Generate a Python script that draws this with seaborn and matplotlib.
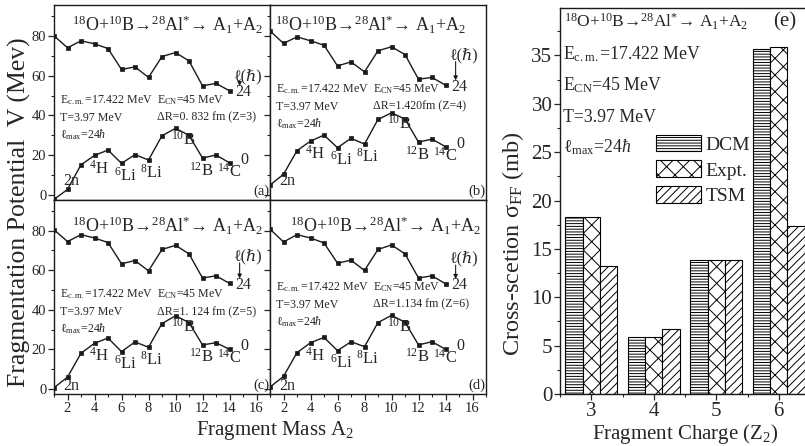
import numpy as np
import pandas as pd
import matplotlib
matplotlib.use("Agg")
import matplotlib.pyplot as plt
import seaborn as sns
from matplotlib.ticker import MultipleLocator
from matplotlib.patches import Patch

sns.set_theme(style="ticks")
plt.rcParams['font.family'] = ['Liberation Serif', 'DejaVu Serif']
plt.rcParams['mathtext.fontset'] = 'custom'
plt.rcParams['mathtext.rm'] = 'Liberation Serif'
plt.rcParams['mathtext.it'] = 'Liberation Serif:italic'
plt.rcParams['mathtext.bf'] = 'Liberation Serif:bold'
plt.rcParams['mathtext.fallback'] = 'stix'
plt.rcParams['hatch.linewidth'] = 0.7
plt.rcParams['axes.linewidth'] = 1.0

# ---------------- data ----------------
mass = [1, 2, 3, 4, 5, 6, 7, 8, 9, 10, 11, 12, 13, 14]

v24_a = [80.0, 74.0, 77.5, 76.0, 73.6, 63.1, 64.4, 59.1, 69.6, 71.6, 67.4, 54.9, 56.1, 52.4]
v0_a = [-2.2, 2.8, 15.2, 19.9, 22.6, 15.9, 20.3, 17.6, 29.8, 33.5, 30.0, 18.6, 20.1, 16.2]
v24_b = [82.5, 76.2, 79.5, 77.5, 75.3, 64.9, 66.9, 61.9, 72.5, 74.5, 70.6, 58.2, 59.1, 55.2]
v0_b = [5.0, 10.4, 22.3, 27.1, 30.1, 23.8, 28.5, 25.6, 38.0, 41.3, 38.2, 26.6, 28.1, 24.3]
v24_c = [80.5, 74.5, 78.0, 76.3, 74.0, 63.3, 64.9, 59.7, 70.5, 72.6, 68.3, 56.1, 57.2, 53.4]
v0_c = [0.7, 6.0, 18.1, 23.1, 25.8, 18.9, 23.8, 21.1, 33.1, 37.0, 33.6, 22.3, 23.4, 20.1]
v24_d = [80.8, 74.3, 78.0, 76.3, 73.8, 63.6, 65.1, 59.9, 70.5, 72.8, 68.3, 56.1, 57.2, 53.2]
v0_d = [1.0, 6.4, 18.4, 23.4, 26.1, 19.4, 23.9, 21.4, 33.6, 37.2, 33.8, 22.3, 23.9, 20.1]

delta_r = ["ΔR=0. 832 fm (Z=3)", "ΔR=1.420fm (Z=4)", "ΔR=1. 124 fm (Z=5)", "ΔR=1.134 fm (Z=6)"]
panel_tags = ["(a)", "(b)", "(c)", "(d)"]

frag_mass = [4, 6, 8, 10, 12, 14]
frag_names = [r"$^{4}$H", r"$^{6}$Li", r"$^{8}$Li", r"$^{10}$B", r"$^{12}$B", r"$^{14}$C"]

charges = ["3", "4", "5", "6"]
sigma_dcm = [18.3, 5.9, 13.8, 35.7]
sigma_expt = [18.3, 5.9, 13.8, 35.9]
sigma_tsm = [13.2, 6.7, 13.9, 17.4]
models = ["DCM", "Expt.", "TSM"]

# ---------------- figure ----------------
W, H = 805, 446
fig = plt.figure(figsize=(W / 100, H / 100), dpi=100)


def box(l, t, r, b):
    return [l / W, (H - b) / H, (r - l) / W, (b - t) / H]


title_txt = r"$^{18}$O+$^{10}$B→$^{28}$Al$^{*}$→ A$_1$+A$_2$"
lmax_txt = r"ℓ$_{\rm max}$=24$\hbar$"

panels = [
    (box(54, 5, 270, 200), v24_a, v0_a),
    (box(270, 5, 486, 200), v24_b, v0_b),
    (box(54, 200, 270, 394), v24_c, v0_c),
    (box(270, 200, 486, 394), v24_d, v0_d),
]
title_x = [2.3, 1.4, 2.3, 2.5]
title_y = [85.5, 85.5, 82.5, 82.5]
info_y = [47.7, 53.2, 47.8, 51.5]
twon_y = [7.2, 6.8, 1.3, 1.3]
ell_dy = [7.0, 15.0, 13.5, 12.6]
lab_off = {4: (0.35, -6.5), 6: (0.3, -6.0), 8: (0.25, -6.3), 10: (0.6, -5.6), 12: (-0.1, -6.2), 14: (0.0, -4.5)}

for i, (pos, up, lo) in enumerate(panels):
    ax = fig.add_axes(pos)
    sns.lineplot(x=mass, y=up, ax=ax, color='k', lw=1.0, marker='s', markersize=2.8,
                 markeredgecolor='k', markeredgewidth=0.5)
    sns.lineplot(x=mass, y=lo, ax=ax, color='k', lw=1.0, marker='s', markersize=2.8,
                 markeredgecolor='k', markeredgewidth=0.5)
    ax.set_xlim(1, 17)
    ax.set_ylim(-2.5, 95.5)
    ax.xaxis.set_major_locator(MultipleLocator(2))
    ax.xaxis.set_minor_locator(MultipleLocator(1))
    ax.yaxis.set_major_locator(MultipleLocator(20))
    ax.yaxis.set_minor_locator(MultipleLocator(10))
    ax.tick_params(which='major', direction='out', length=4, width=0.9, labelsize=10.5, pad=1.5)
    ax.tick_params(which='minor', direction='out', length=2, width=0.8)
    for s in ax.spines.values():
        s.set_visible(True)
        s.set_linewidth(1.0)
        s.set_color('k')
    if i in (1, 3):
        ax.tick_params(labelleft=False)
    if i in (0, 1):
        ax.tick_params(labelbottom=False)
    ax.set_xlabel("")
    ax.set_ylabel("")

    ax.text(title_x[i], title_y[i], title_txt, fontsize=13, ha='left', va='center')
    yb = info_y[i]
    ax.text(1.45, yb, r"E$_{\rm c.m.}$=17.422 MeV", fontsize=8.6, ha='left', va='center')
    ax.text(8.6, yb, r"E$_{\rm CN}$=45 MeV", fontsize=8.6, ha='left', va='center')
    ax.text(1.45, yb - 8.8, "T=3.97 MeV", fontsize=8.6, ha='left', va='center')
    ax.text(8.6, yb - 8.8, delta_r[i], fontsize=8.6, ha='left', va='center')
    ax.text(1.45, yb - 17.3, lmax_txt, fontsize=8.6, ha='left', va='center')

    # fragment labels
    ax.text(2.3, twon_y[i], "2n", fontsize=11.5, ha='center', va='center')
    for m, name in zip(frag_mass, frag_names):
        dx, dy = lab_off[m]
        ax.text(m + dx, lo[m - 1] + dy, name, fontsize=12, ha='center', va='center')
    ax.text(15.1, lo[13] + 1.5, "0", fontsize=11.5, ha='center', va='center')

    # l(hbar) label
    p14 = up[13]
    ax.text(15.0, p14 - 0.8, "24", fontsize=11.5, ha='center', va='center')
    ly = p14 + ell_dy[i]
    ax.text(15.3, ly, "ℓ(ℏ)", fontsize=11.5, ha='center', va='center')
    ax.annotate("", xy=(14.75, p14 + 2.4), xytext=(14.75, ly - 3.2),
                arrowprops=dict(arrowstyle='-|>', color='k', lw=0.8, mutation_scale=6,
                                shrinkA=0, shrinkB=0))
    ax.text(16.95, -1.5, panel_tags[i], fontsize=10.5, ha='right', va='bottom')

fig.text(0.024, 0.525, "Fragmentation Potential  V (Mev)", rotation=90, fontsize=18.5,
         ha='center', va='center')
fig.text(275 / W, (H - 430) / H, r"Fragment Mass A$_2$", fontsize=15, ha='center', va='center')

# ---------------- cross-section panel ----------------
axe = fig.add_axes(box(560, 8, 810, 394))
df = pd.DataFrame({
    "Z": charges * 3,
    "sigma": sigma_dcm + sigma_expt + sigma_tsm,
    "model": [models[0]] * 4 + [models[1]] * 4 + [models[2]] * 4,
})
sns.barplot(data=df, x="Z", y="sigma", hue="model", hue_order=models, order=charges,
            palette=["white"] * 3, edgecolor="black", linewidth=0.8, width=0.83,
            saturation=1, legend=False, ax=axe)
hatches = ["------", "xx", "////"]
for cont, h in zip(axe.containers, hatches):
    for bar in cont:
        bar.set_hatch(h)
        bar.set_facecolor("white")
        bar.set_edgecolor("black")

axe.set_xlim(-0.5, 3.5)
axe.set_ylim(0, 39.9)
axe.yaxis.set_major_locator(MultipleLocator(5))
axe.yaxis.set_minor_locator(MultipleLocator(2.5))
axe.set_xticks([0, 1, 2, 3], minor=False)
axe.set_xticks([-0.5, 0.5, 1.5, 2.5, 3.5], minor=True)
axe.tick_params(which='major', direction='out', length=4, width=0.9, labelsize=15, pad=1.5)
axe.tick_params(which='minor', direction='out', length=2.5, width=0.8)
for s in axe.spines.values():
    s.set_visible(True)
    s.set_linewidth(1.0)
    s.set_color('k')
axe.set_xlabel(r"Fragment Charge (Z$_2$)", fontsize=15, labelpad=1)
axe.set_ylabel(r"Cross-scetion σ$_{\rm FF}$ (mb)", fontsize=17.5)
axe.yaxis.set_label_coords(-0.138, 0.39)

axe.text(-0.43, 38.5, title_txt, fontsize=12.5, ha='left', va='center')
axe.text(3.1, 38.5, "(e)", fontsize=15, ha='center', va='center')
axe.text(-0.45, 35.1, r"E$_{\rm c.m.}$=17.422 MeV", fontsize=12.8, ha='left', va='center')
axe.text(-0.45, 31.9, r"E$_{\rm CN}$=45 MeV", fontsize=12.8, ha='left', va='center')
axe.text(-0.45, 28.6, "T=3.97 MeV", fontsize=12.8, ha='left', va='center')
axe.text(-0.45, 25.5, lmax_txt, fontsize=12.8, ha='left', va='center')

handles = [Patch(facecolor="white", edgecolor="black", hatch=h, linewidth=0.8, label=m)
           for h, m in zip(hatches, models)]
axe.legend(handles=handles, loc="upper left", bbox_to_anchor=(0.385, 0.672), frameon=False,
           fontsize=14, handlelength=2.3, handleheight=0.95, handletextpad=0.25,
           labelspacing=0.35, borderpad=0, borderaxespad=0)

fig.savefig("out.png", dpi=100)
